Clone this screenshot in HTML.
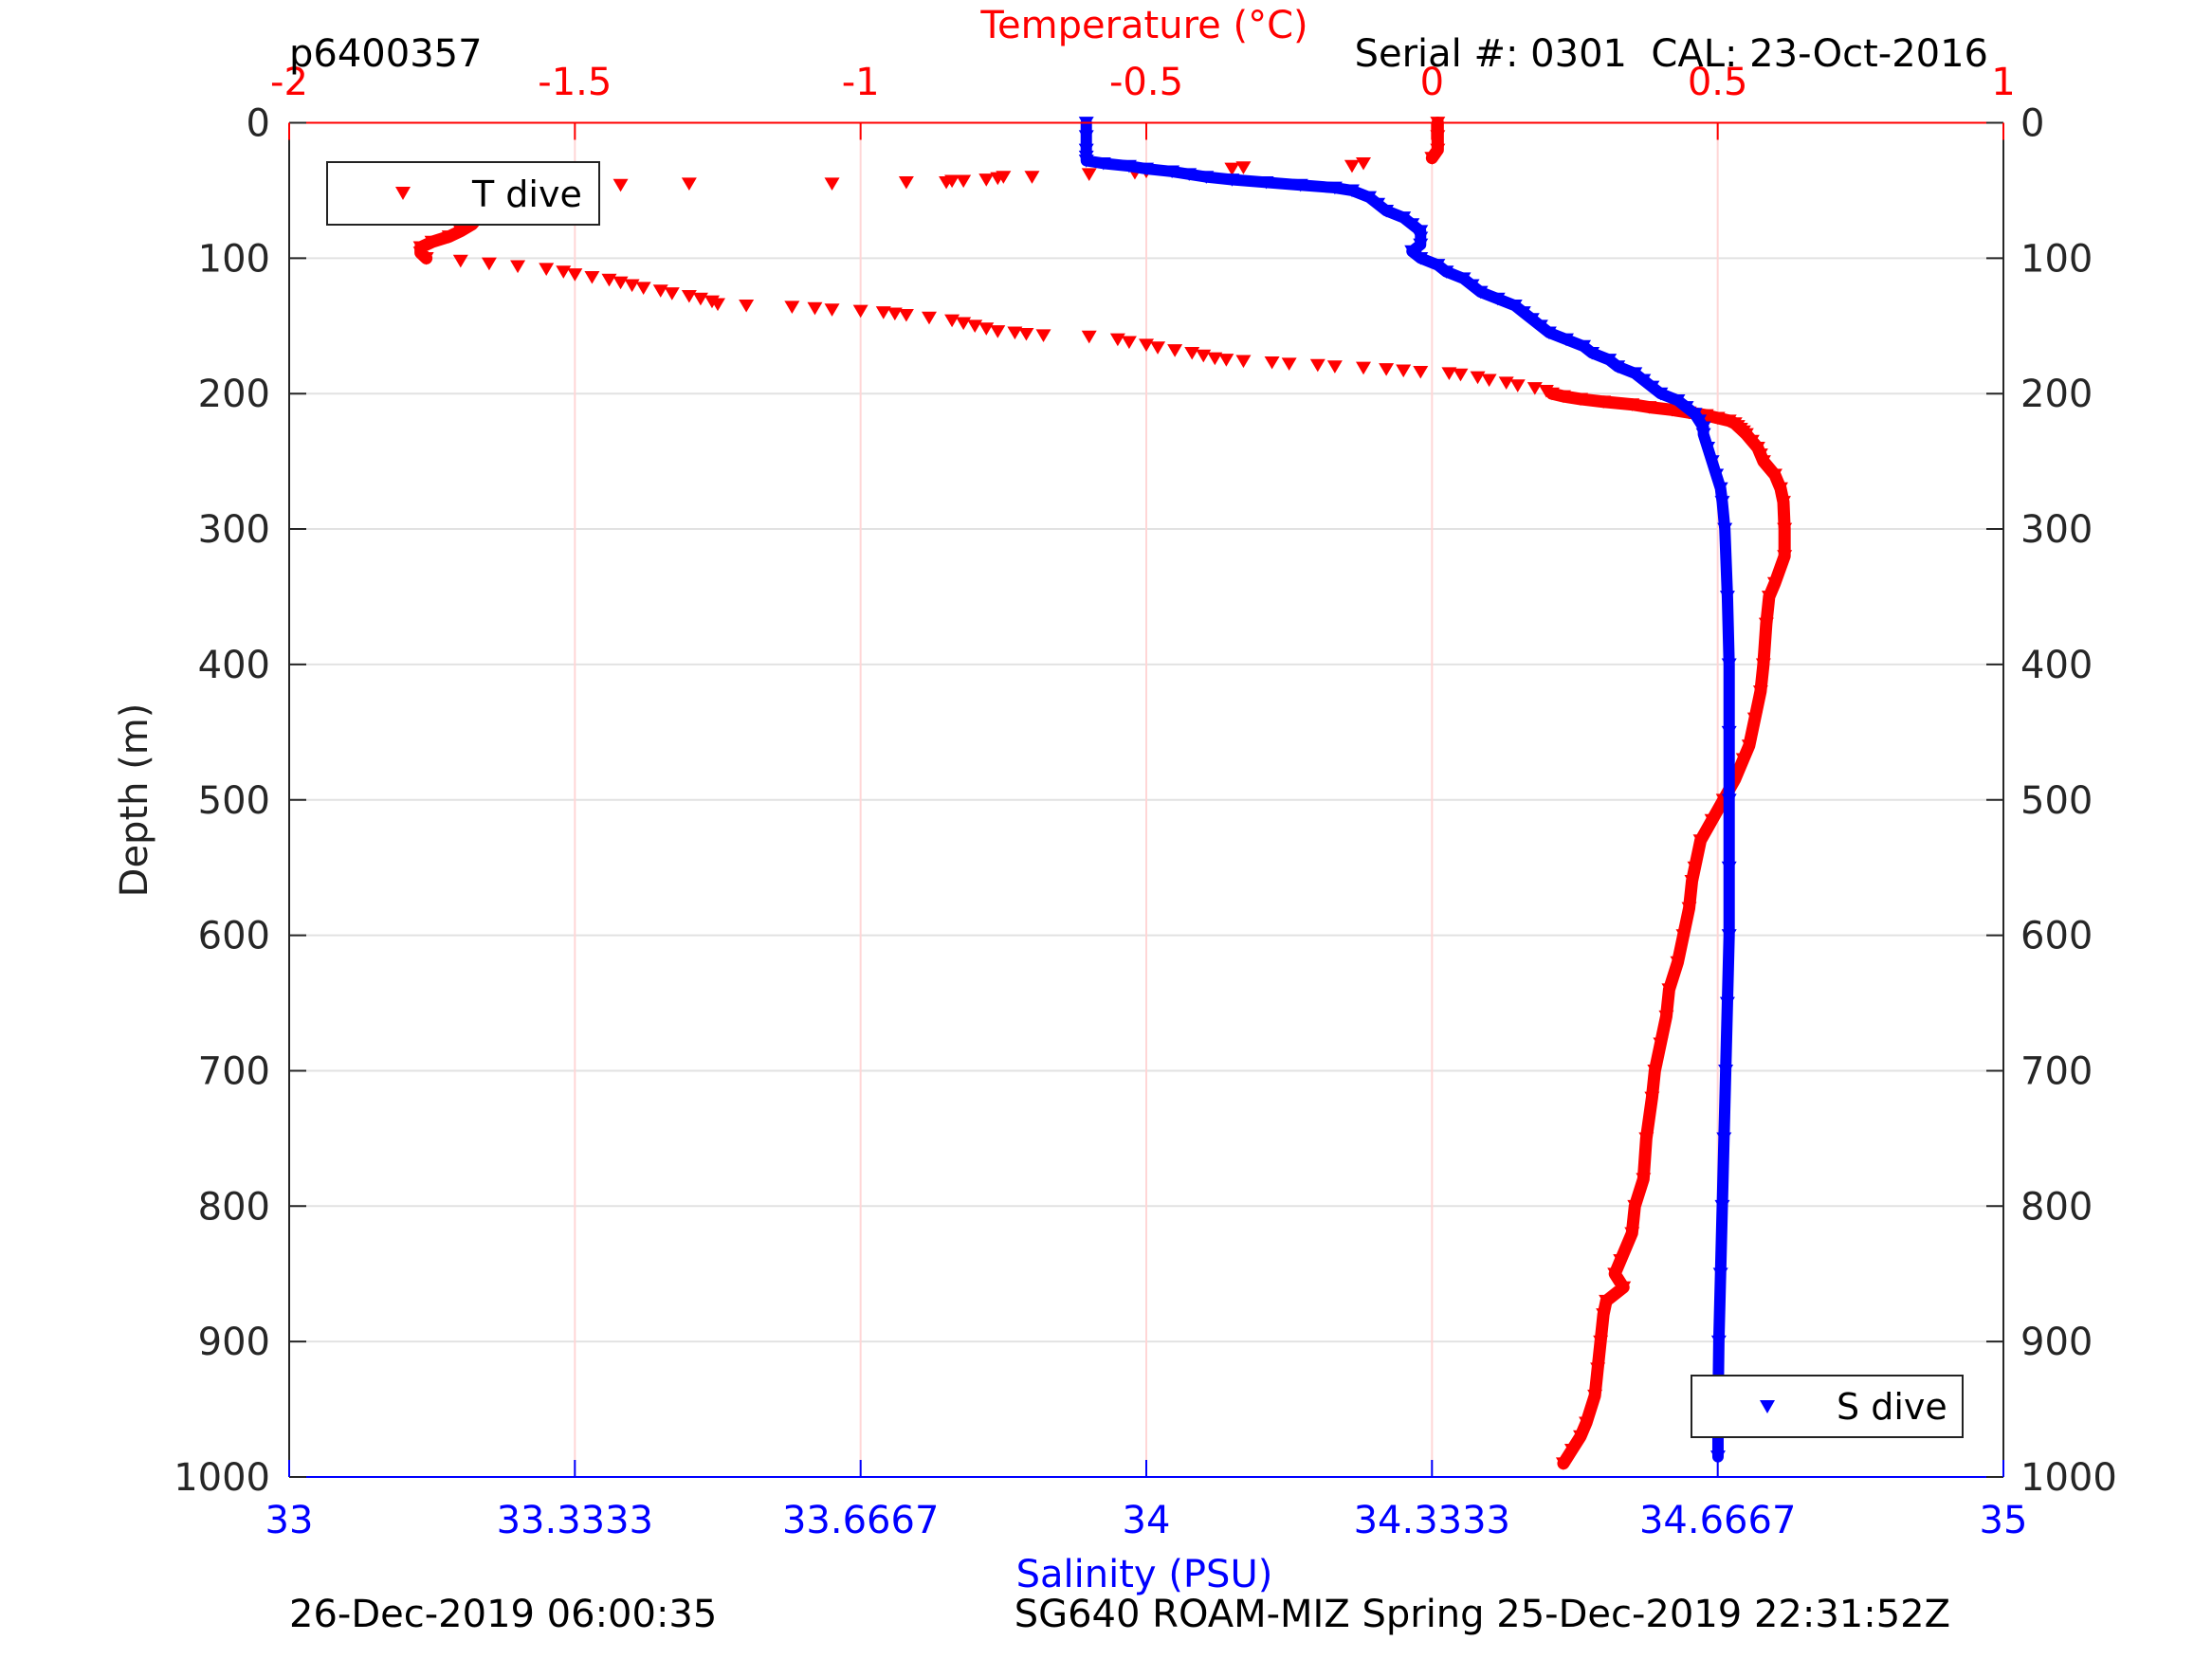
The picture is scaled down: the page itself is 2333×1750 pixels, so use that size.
<!DOCTYPE html>
<html><head><meta charset="utf-8"><style>
html,body{margin:0;padding:0;background:#fff}
svg{display:block;font-family:"DejaVu Sans","Liberation Sans",sans-serif}
</style></head><body>
<svg id="chart" width="2333" height="1750" viewBox="0 0 2333 1750" xmlns="http://www.w3.org/2000/svg">
<rect width="2333" height="1750" fill="#fff"/>
<g id="grid"></g>
<g id="series"></g>
<g id="axes"></g>
<text x="305" y="70" font-size="40" fill="#000">p6400357</text>
<text x="2097" y="70" font-size="40" fill="#000" text-anchor="end" xml:space="preserve">Serial #: 0301  CAL: 23-Oct-2016</text>
<text x="1207" y="40" font-size="40" fill="#f00" text-anchor="middle">Temperature (°C)</text>
<text x="1207" y="1674" font-size="40" fill="#00f" text-anchor="middle">Salinity (PSU)</text>
<text x="0" y="0" font-size="40" fill="#222" text-anchor="middle" transform="translate(155,844) rotate(-90)">Depth (m)</text>
<text x="305" y="1716" font-size="40" fill="#000">26-Dec-2019 06:00:35</text>
<text x="2057" y="1716" font-size="40" fill="#000" text-anchor="end">SG640 ROAM-MIZ Spring 25-Dec-2019 22:31:52Z</text>
<script>
const depthTicks=[0,100,200,300,400,500,600,700,800,900,1000];
const tempTicks=[-2,-1.5,-1,-0.5,0,0.5,1];
const tempTickLabels=["-2","-1.5","-1","-0.5","0","0.5","1"];
const salTicks=[33,33.3333,33.6667,34,34.3333,34.6667,35];
const salTickLabels=["33","33.3333","33.6667","34","34.3333","34.6667","35"];
const tempDepth=[0,10,20,26,30,32,33,34,36,37,38,40,40,41,42,43,43,44,44,45,45,46,48,52,56,60,65,70,75,80,84,88,92,96,100,102,104,106,108,110,112,114,116,118,120,122,124,126,128,130,132,134,135,136,137,138,139,140,141,142,144,146,148,150,152,154,155,156,157,158,160,162,164,166,168,170,172,174,175,176,177,178,179,180,181,182,183,184,185,186,188,190,192,194,196,198,200,202,204,206,208,210,212,214,216,218,220,222,224,226,228,230,235,240,245,250,260,270,280,300,320,340,350,370,400,420,440,460,470,485,500,515,530,550,560,580,600,620,640,660,680,700,720,750,780,800,820,840,850,860,870,880,900,920,940,960,970,980,990];
const tempValue=[0.01,0.01,0.01,0.0,-0.12,-0.14,-0.33,-0.35,-0.5,-0.52,-0.6,-0.7,-0.75,-0.76,-0.78,-0.82,-0.84,-0.85,-0.92,-1.05,-1.3,-1.42,-1.47,-1.65,-1.66,-1.66,-1.67,-1.67,-1.68,-1.7,-1.72,-1.75,-1.77,-1.77,-1.76,-1.7,-1.65,-1.6,-1.55,-1.52,-1.5,-1.47,-1.44,-1.42,-1.4,-1.38,-1.35,-1.33,-1.3,-1.28,-1.26,-1.25,-1.2,-1.12,-1.08,-1.05,-1.0,-0.96,-0.94,-0.92,-0.88,-0.84,-0.82,-0.8,-0.78,-0.76,-0.73,-0.71,-0.68,-0.6,-0.55,-0.53,-0.5,-0.48,-0.45,-0.42,-0.4,-0.38,-0.36,-0.33,-0.28,-0.25,-0.2,-0.17,-0.12,-0.08,-0.05,-0.02,0.03,0.05,0.08,0.1,0.13,0.15,0.18,0.2,0.21,0.23,0.26,0.3,0.35,0.38,0.42,0.45,0.48,0.5,0.52,0.53,0.535,0.54,0.545,0.55,0.56,0.57,0.575,0.58,0.6,0.61,0.615,0.617,0.617,0.6,0.59,0.585,0.58,0.575,0.565,0.555,0.545,0.53,0.51,0.49,0.47,0.46,0.455,0.45,0.44,0.43,0.415,0.41,0.4,0.39,0.385,0.375,0.37,0.355,0.35,0.33,0.32,0.335,0.305,0.3,0.295,0.29,0.285,0.27,0.26,0.245,0.23];
const salDepth=[0,10,20,25,28,30,32,34,36,38,40,42,44,46,48,50,55,60,65,70,75,80,85,90,95,100,105,110,115,120,125,130,135,140,145,150,155,160,165,170,175,180,185,190,195,200,205,210,215,220,225,230,240,250,260,270,280,300,350,400,450,500,550,600,650,700,750,800,850,900,950,985];
const salValue=[33.93,33.93,33.93,33.93,33.93,33.95,33.98,34.0,34.03,34.05,34.07,34.1,34.14,34.18,34.22,34.24,34.26,34.27,34.28,34.3,34.31,34.32,34.32,34.32,34.31,34.32,34.34,34.35,34.37,34.38,34.39,34.41,34.43,34.44,34.45,34.46,34.47,34.49,34.51,34.52,34.54,34.55,34.57,34.58,34.59,34.6,34.62,34.63,34.64,34.645,34.65,34.65,34.655,34.66,34.665,34.67,34.672,34.675,34.678,34.68,34.68,34.68,34.68,34.68,34.678,34.676,34.674,34.672,34.67,34.668,34.667,34.667];
</script>
<g>
<rect x="345" y="171" width="287" height="66" fill="#fff" stroke="#222" stroke-width="2"/>
<path d="M417,197 L433,197 L425,211 Z" fill="#f00"/>
<text x="498" y="218" font-size="38" fill="#000">T dive</text>
</g>
<g>
<rect x="1784" y="1451" width="286" height="65" fill="#fff" stroke="#222" stroke-width="2"/>
<path d="M1856,1477 L1872,1477 L1864,1491 Z" fill="#00f"/>
<text x="1937" y="1497" font-size="38" fill="#000">S dive</text>
</g>
</svg>
<script>
const L=305,R=2113,T=129.5,B=1558;
const NS="http://www.w3.org/2000/svg";
function yScale(d){return T+(d-0)/(1000-0)*(B-T);}
function xTemp(t){return L+(t-(-2))/(1-(-2))*(R-L);}
function xSal(s){return L+(s-33)/(35-33)*(R-L);}
function mk(tag,attrs,parent){const e=document.createElementNS(NS,tag);for(const k in attrs)e.setAttribute(k,attrs[k]);parent.appendChild(e);return e;}
const grid=document.getElementById('grid'),ser=document.getElementById('series'),ax=document.getElementById('axes');
depthTicks.forEach(d=>{if(d>0&&d<1000){const g=mk('line',{x1:L,x2:R,y1:yScale(d),y2:yScale(d),stroke:'#e2e2e2','stroke-width':2},grid);

}});
tempTicks.forEach(t=>{if(t>-2&&t<1){const g=mk('line',{x1:xTemp(t),x2:xTemp(t),y1:T,y2:B,stroke:'#ffd6d6','stroke-width':2},grid);

}});
function tri(x,y,col,parent,name){const s=8;const p=mk('path',{d:`M${x-s},${y-s*0.8} L${x+s},${y-s*0.8} L${x},${y+s*0.9} Z`,fill:col},parent);

}
function denseT(d){return d<=26||(d>=52&&d<=100)||d>=200;}
let tp='';for(let i=0;i<tempDepth.length-1;i++){if(denseT(tempDepth[i])&&denseT(tempDepth[i+1])){tp+=`M${xTemp(tempValue[i])},${yScale(tempDepth[i])} L${xTemp(tempValue[i+1])},${yScale(tempDepth[i+1])} `;}}
const tl=mk('path',{d:tp,stroke:'#f00','stroke-width':13,fill:'none','stroke-linecap':'round','stroke-linejoin':'round'},ser);


tempDepth.forEach((d,i)=>tri(xTemp(tempValue[i]),yScale(d),'#f00',ser,'temperature-marker'));
let sp='';salDepth.forEach((d,i)=>{sp+=(i===0?'M':'L')+`${xSal(salValue[i])},${yScale(d)} `;});
const sl=mk('path',{d:sp,stroke:'#00f','stroke-width':12,fill:'none','stroke-linecap':'round','stroke-linejoin':'round'},ser);


salDepth.forEach((d,i)=>tri(xSal(salValue[i]),yScale(d),'#00f',ser,'salinity-marker'));
const ll=mk('line',{x1:L,x2:L,y1:T,y2:B,stroke:'#262626','stroke-width':2},ax);
const rl=mk('line',{x1:R,x2:R,y1:T,y2:B,stroke:'#262626','stroke-width':2},ax);
const tl2=mk('line',{x1:L,x2:R,y1:T,y2:T,stroke:'#f00','stroke-width':2},ax);
const bl=mk('line',{x1:L,x2:R,y1:B,y2:B,stroke:'#00f','stroke-width':2},ax);
depthTicks.forEach(d=>{const y=yScale(d);
mk('line',{x1:L,x2:L+18,y1:y,y2:y,stroke:'#262626','stroke-width':2},ax);
mk('line',{x1:R-18,x2:R,y1:y,y2:y,stroke:'#262626','stroke-width':2},ax);
const a=mk('text',{x:L-20,y:y+14,'font-size':40,fill:'#262626','text-anchor':'end'},ax);a.textContent=d;


const b=mk('text',{x:R+18,y:y+14,'font-size':40,fill:'#262626'},ax);b.textContent=d;

});
tempTicks.forEach((t,i)=>{const x=xTemp(t);mk('line',{x1:x,x2:x,y1:T,y2:T+18,stroke:'#f00','stroke-width':2},ax);
const a=mk('text',{x:x,y:100,'font-size':40,fill:'#f00','text-anchor':'middle'},ax);a.textContent=tempTickLabels[i];

});
salTicks.forEach((s,i)=>{const x=xSal(s);mk('line',{x1:x,x2:x,y1:B-18,y2:B,stroke:'#00f','stroke-width':2},ax);
const a=mk('text',{x:x,y:1617,'font-size':40,fill:'#00f','text-anchor':'middle'},ax);a.textContent=salTickLabels[i];

});
</script>
</body></html>
